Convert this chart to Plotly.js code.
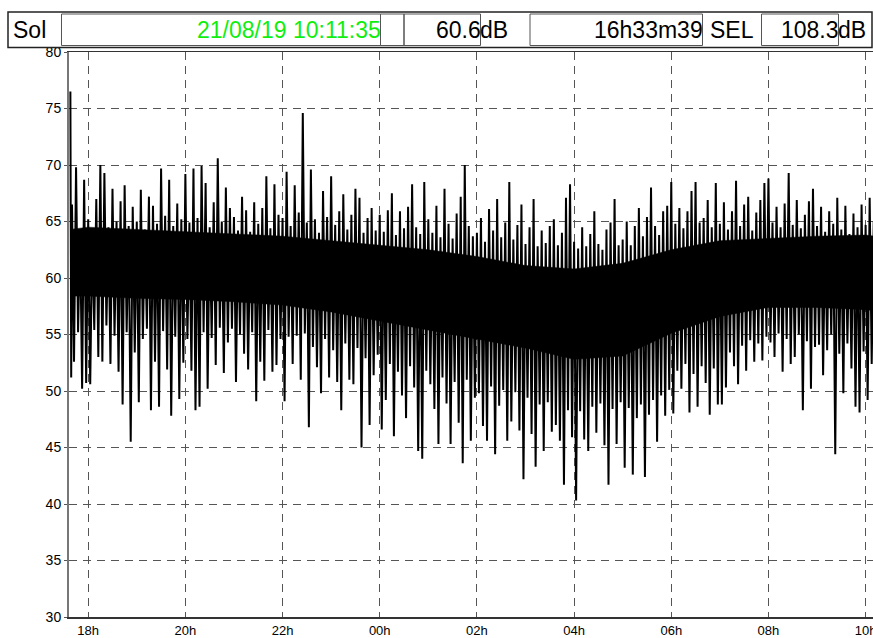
<!DOCTYPE html>
<html><head><meta charset="utf-8">
<script src="https://cdn.plot.ly/plotly-3.0.1.min.js"></script>
<style>html,body{margin:0;padding:0;overflow:hidden;background:#fff}#chart{width:880px;height:638px}</style>
</head><body><div id="chart"></div>
<script>
// ---- data ----
const startTime = '2019-08-20T17:40:00Z';   // first 5-minute column
const stepMinutes = 5;
const leadTimes = ['2019-08-20T17:38:00Z', '2019-08-20T17:39:00Z'];
const leadValues = [76.5, 51.2];
// per 5-minute column: highest and lowest level (dB)
const hiValues = [
  66.5, 69.8, 64.2, 68.7,
  65.2, 63.8, 67.0, 70.0, 69.3, 64.5, 67.9, 65.0, 66.8, 68.2, 64.6, 66.3,
  65.0, 67.8, 64.3, 67.2, 66.4, 64.8, 69.7, 65.5, 68.7, 64.6, 66.6, 65.2,
  69.2, 64.9, 69.7, 65.3, 69.9, 68.4, 64.5, 66.7, 70.6, 65.0, 68.0, 66.2,
  65.4, 64.2, 67.2, 66.0, 64.1, 66.7, 64.8, 66.2, 69.0, 64.4, 68.3, 65.6,
  65.3, 69.4, 64.6, 68.2, 65.8, 74.6, 64.9, 69.6, 65.2, 64.0, 67.7, 65.4,
  69.0, 64.7, 65.9, 67.4, 64.3, 65.6, 67.9, 67.1, 64.0, 65.3, 66.2, 64.2,
  65.6, 64.1, 66.0, 67.5, 63.8, 65.9, 64.4, 66.3, 68.3, 64.5, 63.9, 68.5,
  65.2, 64.0, 66.4, 63.6, 67.9, 64.8, 63.5, 65.7, 67.2, 70.0, 64.6, 63.7,
  64.0, 65.3, 63.2, 66.1, 64.2, 67.0, 63.6, 64.9, 68.5, 63.4, 64.7, 66.5,
  63.0, 64.5, 67.0, 62.8, 64.2, 63.1, 64.6, 65.2, 62.9, 64.0, 67.1, 68.3,
  63.2, 62.6, 64.5, 62.8, 63.9, 65.9, 63.0, 62.5, 64.3, 64.9, 67.0, 62.9,
  63.4, 65.0, 62.9, 64.6, 66.2, 63.7, 65.4, 68.0, 64.6, 63.8, 65.9, 66.4,
  68.5, 64.8, 66.2, 64.4, 65.9, 67.7, 68.5, 64.9, 65.3, 66.9, 64.5, 68.4,
  64.8, 66.7, 64.3, 65.9, 68.6, 64.6, 66.5, 67.2, 64.2, 65.8, 66.9, 68.4,
  68.8, 64.9, 66.3, 64.5, 66.6, 69.3, 64.7, 66.9, 64.4, 65.6, 66.8, 67.9,
  64.6, 66.3, 64.1, 65.9, 64.8, 67.1, 64.3, 66.4, 63.9, 65.7, 64.5, 66.5,
  64.7, 67.1, 65.0
];
const loValues = [
  52.6, 55.2, 50.2, 50.7,
  50.6, 55.4, 53.0, 52.6, 55.8, 52.4, 54.9, 51.7, 48.8, 55.2, 45.5, 53.4,
  49.0, 54.6, 55.5, 48.3, 52.6, 48.6, 55.3, 51.9, 47.8, 54.8, 49.3, 52.5,
  54.6, 51.8, 48.3, 48.6, 55.2, 50.2, 54.7, 52.3, 55.6, 51.6, 54.3, 55.5,
  50.8, 55.0, 53.3, 51.9, 55.2, 49.1, 52.6, 50.9, 55.4, 51.7, 52.3, 54.6,
  49.1, 54.8, 52.4, 54.9, 51.0, 55.1, 46.8, 53.9, 52.1, 49.8, 54.6, 51.2,
  53.6, 50.8, 48.3, 54.2, 51.0, 50.6, 53.8, 45.0, 52.9, 47.0, 51.4, 53.2,
  46.6, 49.2, 52.4, 46.0, 51.7, 49.6, 47.6, 52.2, 50.3, 44.7, 44.0, 51.8,
  50.6, 48.4, 45.3, 51.2, 48.9, 45.3, 50.8, 47.2, 43.6, 51.0, 45.6, 49.4,
  49.8, 46.9, 45.6, 50.4, 44.4, 48.7, 50.1, 45.6, 47.3, 49.9, 46.5, 42.2,
  49.4, 46.2, 43.3, 48.8, 44.7, 49.0, 46.4, 47.0, 45.6, 41.7, 48.3, 45.9,
  40.3, 48.2, 45.7, 44.7, 48.6, 46.3, 48.9, 45.2, 41.7, 48.4, 45.3, 49.0,
  43.2, 48.5, 42.6, 47.6, 48.8, 42.4, 47.9, 49.2, 45.5, 49.6, 47.8, 50.1,
  48.0, 51.8, 50.2, 52.4, 48.1, 51.5, 48.6, 52.2, 50.7, 47.9, 52.0, 48.8,
  48.8, 50.3, 53.4, 52.2, 50.6, 54.0, 51.8, 54.5, 52.6, 54.2, 52.7, 54.8,
  54.3, 53.0, 55.1, 51.7, 54.6, 52.4, 53.0, 55.0, 48.3, 54.4, 50.2, 53.9,
  54.1, 51.4, 53.6, 55.0, 44.4, 53.3, 49.8, 54.2, 52.0, 48.6, 48.1, 53.5,
  49.2, 52.4, 51.5
];
// dense (solid black) part of the trace, read per hour
const coreTimes = ['2019-08-20T17:38:00Z','2019-08-20T18:00:00Z','2019-08-20T19:00:00Z','2019-08-20T20:00:00Z',
  '2019-08-20T21:00:00Z','2019-08-20T22:00:00Z','2019-08-20T23:00:00Z','2019-08-21T00:00:00Z',
  '2019-08-21T01:00:00Z','2019-08-21T02:00:00Z','2019-08-21T03:00:00Z','2019-08-21T04:00:00Z',
  '2019-08-21T05:00:00Z','2019-08-21T06:00:00Z','2019-08-21T07:00:00Z','2019-08-21T08:00:00Z',
  '2019-08-21T09:00:00Z','2019-08-21T10:00:00Z','2019-08-21T10:11:30Z'];
const coreTop    = [64.3, 64.5, 64.3, 64.1, 63.9, 63.7, 63.3, 62.9, 62.5, 61.9, 61.1, 60.8, 61.3, 62.5, 63.3, 63.5, 63.7, 63.8, 63.7];
const coreBottom = [58.4, 58.4, 58.2, 58.1, 57.9, 57.6, 57.0, 56.2, 55.4, 54.6, 53.8, 52.8, 53.1, 55.1, 56.6, 57.4, 57.4, 57.2, 57.1];

const xRange = ['2019-08-20T17:36:18Z', '2019-08-21T10:11:35Z'];
const tickTimes = ['2019-08-20T18:00:00Z','2019-08-20T20:00:00Z','2019-08-20T22:00:00Z',
  '2019-08-21T00:00:00Z','2019-08-21T02:00:00Z','2019-08-21T04:00:00Z',
  '2019-08-21T06:00:00Z','2019-08-21T08:00:00Z','2019-08-21T10:00:00Z'];
const tickLabels = ['18h','20h','22h','00h','02h','04h','06h','08h','10h'];
const yTickValues = [30,35,40,45,50,55,60,65,70,75,80];
const headerTexts = ['Sol', '21/08/19 10:11:35', '60.6', 'dB', '16h33m39', 'SEL', '108.3', 'dB'];

// ---- build traces ----
const ms = s => Date.parse(s);
const t0 = ms(startTime), step = stepMinutes * 60000;
const xs = leadTimes.map(ms), ys = leadValues.slice();
for (let i = 0; i < hiValues.length; i++) {
  xs.push(t0 + i * step); ys.push(hiValues[i]);
  xs.push(t0 + i * step + step / 2); ys.push(loValues[i]);
}
const coreX = coreTimes.map(ms).concat(coreTimes.map(ms).reverse());
const coreY = coreTop.concat(coreBottom.slice().reverse());

// ---- geometry ----
const W = 880, H = 638, ML = 69, MR = 5, MT = 52, MB = 21;
const PW = W - ML - MR, PH = H - MT - MB;
const px = x => (x - ML) / PW;
const py = y => 1 - (y - MT) / PH;

const shapes = [];
function rect(x0, x1, y0, y1, color, w) {
  shapes.push({type:'rect', xref:'paper', yref:'paper', x0:px(x0), x1:px(x1), y0:py(y1), y1:py(y0),
    line:{color:color, width:w}, fillcolor:'rgba(0,0,0,0)', layer:'above'});
}
rect(8, 872, 12, 47.5, '#222', 1.5);
rect(61.5, 380.5, 14, 45.5, '#555', 1);
rect(380.5, 404, 14, 45.5, '#555', 1);
rect(404, 480.5, 14, 45.5, '#555', 1);
rect(530, 702.5, 14, 45.5, '#555', 1);
rect(761.5, 838.5, 14, 45.5, '#555', 1);

const hfont = {family:'Liberation Sans, Arial, sans-serif', size:23, color:'#000'};
const ann = (text, x, anchor, color) => ({text:text, xref:'paper', yref:'paper', x:px(x), y:py(30),
  xanchor:anchor, yanchor:'middle', showarrow:false, borderpad:0, borderwidth:0,
  font:Object.assign({}, hfont, color ? {color:color} : {})});
const annotations = [
  ann(headerTexts[0], 13, 'left'),
  ann(headerTexts[1], 381, 'right', '#10ee10'),
  ann(headerTexts[2], 481, 'right'),
  ann(headerTexts[3], 480, 'left'),
  ann(headerTexts[4], 703, 'right'),
  ann(headerTexts[5], 710, 'left'),
  ann(headerTexts[6], 839, 'right'),
  ann(headerTexts[7], 838, 'left')
];

const gridDash = '8px,6px';
const layout = {
  width: W, height: H,
  margin: {l:ML, r:MR, t:MT, b:MB, pad:0},
  paper_bgcolor:'#fff', plot_bgcolor:'#fff',
  showlegend:false,
  font:{family:'Liberation Sans, Arial, sans-serif', size:14, color:'#000'},
  xaxis:{type:'date', range:xRange.map(ms), tickmode:'array', tickvals:tickTimes.map(ms), ticktext:tickLabels,
    showgrid:true, gridcolor:'#555', gridwidth:1, griddash:gridDash,
    showline:true, linecolor:'#333', linewidth:1.5, mirror:true,
    ticks:'outside', ticklen:1, tickcolor:'rgba(0,0,0,0)', zeroline:false,
    tickfont:{size:13, family:'Liberation Sans, Arial, sans-serif'}},
  yaxis:{range:[30,80], tickmode:'array', tickvals:yTickValues, ticktext:yTickValues.map(String),
    showgrid:true, gridcolor:'#555', gridwidth:1, griddash:gridDash,
    showline:true, linecolor:'#777', linewidth:2, mirror:true,
    ticks:'outside', ticklen:3, tickcolor:'#555', zeroline:false,
    tickfont:{size:14, family:'Liberation Sans, Arial, sans-serif'}},
  shapes: shapes,
  annotations: annotations
};
const core = {x:coreX, y:coreY, type:'scatter', mode:'lines', fill:'toself', fillcolor:'#000',
  line:{color:'#000', width:0.5}, hoverinfo:'skip'};
const trace = {x:xs, y:ys, type:'scatter', mode:'lines', line:{color:'#000', width:2}, hoverinfo:'skip'};
Plotly.newPlot('chart', [core, trace], layout, {staticPlot:true, displayModeBar:false});
</script></body></html>
